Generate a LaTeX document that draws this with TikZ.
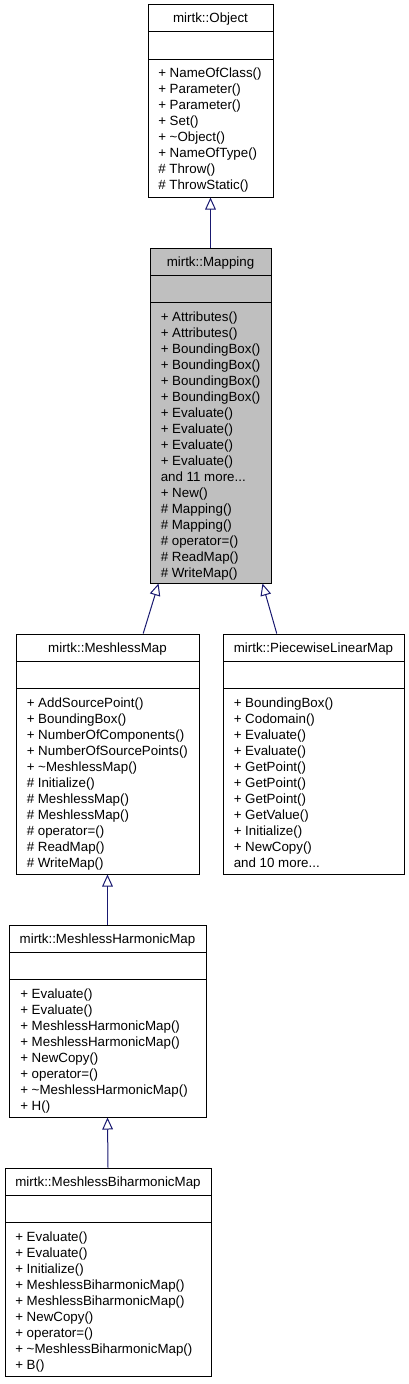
\documentclass[tikz,border=0pt]{standalone}
\usepackage{fontspec}
\setmainfont{Liberation Sans}
\usetikzlibrary{arrows.meta,fit,calc}
\definecolor{edgeblue}{HTML}{191970}
\definecolor{mapgrey}{HTML}{BFBFBF}
\newcommand{\tdots}{...}
\begin{document}
\begin{tikzpicture}[x=0.75pt,y=-0.75pt,
  classbox/.style={draw=black, line width=0.75pt, fill=white, inner sep=0pt},
  sepline/.style={draw=black, line width=0.75pt},
  title/.style={font=\fontsize{10}{12}\selectfont, anchor=base, inner sep=0pt},
  member/.style={font=\fontsize{10}{12}\selectfont, anchor=base west, inner sep=0pt},
  inh/.style={draw=edgeblue, line width=0.75pt, -{Triangle[open, length=9pt, width=8pt]}}]
\useasboundingbox (0,0) rectangle (408,1384);

% mirtk::Object
\node[classbox, fit={(148,5) (273,197)}] (obj) {};
\draw[sepline] (148,32) -- (273,32);
\draw[sepline] (148,59.5) -- (273,59.5);
\node[title] (objt) at (210.5,23) {mirtk::Object};
\foreach \t [count=\i from 0] in {+ NameOfClass(), + Parameter(), + Parameter(), + Set(), + \textasciitilde Object(), + NameOfType(), \# Throw(), \# ThrowStatic()}
  \node[member] (objm\i) at (158,{78+16*\i}) {\t};

% mirtk::Mapping
\node[classbox, fill=mapgrey, fit={(150,248) (271,583)}] (map) {};
\draw[sepline] (150,275) -- (271,275);
\draw[sepline] (150,302.5) -- (271,302.5);
\node[title] (mapt) at (210.5,266) {mirtk::Mapping};
\foreach \t [count=\i from 0] in {+ Attributes(), + Attributes(), + BoundingBox(), + BoundingBox(), + BoundingBox(), + BoundingBox(), + Evaluate(), + Evaluate(), + Evaluate(), + Evaluate(), {and 11 more\tdots}, + New(), \# Mapping(), \# Mapping(), \# operator=(), \# ReadMap(), \# WriteMap()}
  \node[member] (mapm\i) at (160.5,{321+16*\i}) {\t};

% mirtk::MeshlessMap
\node[classbox, fit={(16,634) (199,874)}] (mm) {};
\draw[sepline] (16,661) -- (199,661);
\draw[sepline] (16,688.5) -- (199,688.5);
\node[title] (mmt) at (107.5,652) {mirtk::MeshlessMap};
\foreach \t [count=\i from 0] in {+ AddSourcePoint(), + BoundingBox(), + NumberOfComponents(), + NumberOfSourcePoints(), + \textasciitilde MeshlessMap(), \# Initialize(), \# MeshlessMap(), \# MeshlessMap(), \# operator=(), \# ReadMap(), \# WriteMap()}
  \node[member] (mmm\i) at (26.5,{707+16*\i}) {\t};

% mirtk::PiecewiseLinearMap
\node[classbox, fit={(223,634) (404,874)}] (plm) {};
\draw[sepline] (223,661) -- (404,661);
\draw[sepline] (223,688.5) -- (404,688.5);
\node[title] (plmt) at (313.5,652) {mirtk::PiecewiseLinearMap};
\foreach \t [count=\i from 0] in {+ BoundingBox(), + Codomain(), + Evaluate(), + Evaluate(), + GetPoint(), + GetPoint(), + GetPoint(), + GetValue(), + Initialize(), + NewCopy(), {and 10 more\tdots}}
  \node[member] (plmm\i) at (233.5,{707+16*\i}) {\t};

% mirtk::MeshlessHarmonicMap
\node[classbox, fit={(9,925) (206,1117)}] (mhm) {};
\draw[sepline] (9,952) -- (206,952);
\draw[sepline] (9,979.5) -- (206,979.5);
\node[title] (mhmt) at (107.5,943) {mirtk::MeshlessHarmonicMap};
\foreach \t [count=\i from 0] in {+ Evaluate(), + Evaluate(), + MeshlessHarmonicMap(), + MeshlessHarmonicMap(), + NewCopy(), + operator=(), + \textasciitilde MeshlessHarmonicMap(), + H()}
  \node[member] (mhmm\i) at (20,{998+16*\i}) {\t};

% mirtk::MeshlessBiharmonicMap
\node[classbox, fit={(5,1168) (211,1376)}] (mbm) {};
\draw[sepline] (5,1195) -- (211,1195);
\draw[sepline] (5,1222.5) -- (211,1222.5);
\node[title] (mbmt) at (108,1186) {mirtk::MeshlessBiharmonicMap};
\foreach \t [count=\i from 0] in {+ Evaluate(), + Evaluate(), + Initialize(), + MeshlessBiharmonicMap(), + MeshlessBiharmonicMap(), + NewCopy(), + operator=(), + \textasciitilde MeshlessBiharmonicMap(), + B()}
  \node[member] (mbmm\i) at (15,{1241+16*\i}) {\t};

% inheritance connectors
\draw[inh] (map.north) -- (obj.south);
\draw[inh] ($(mm.north west)!0.694!(mm.north east)$) -- ($(map.south west)!0.074!(map.south east)$);
\draw[inh] ($(plm.north west)!0.298!(plm.north east)$) -- ($(map.south west)!0.926!(map.south east)$);
\draw[inh] (mhm.north) -- (mm.south);
\draw[inh] (mbm.north) -- (mhm.south);
\end{tikzpicture}
\end{document}
